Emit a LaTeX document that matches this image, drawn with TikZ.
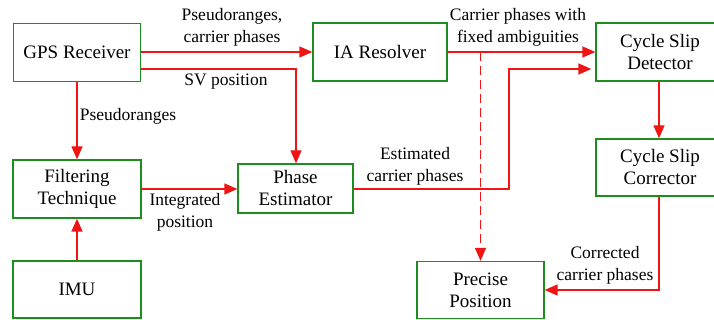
\documentclass[tikz,border=0pt]{standalone}
\usepackage{fontspec}
\setmainfont{Liberation Serif}
\usetikzlibrary{arrows.meta,calc}
\definecolor{boxgreen}{RGB}{30,140,30}
\definecolor{linered}{RGB}{240,20,20}
\tikzset{
  blk/.style={draw=boxgreen, line width=1.3pt, fill=white, align=center, inner sep=2pt,
    font=\rmfamily\fontsize{19}{22}\selectfont},
  conn/.style={draw=linered, line width=1.3pt, -{Triangle[length=13pt,width=11pt]}},
  lbl/.style={align=center, font=\rmfamily\fontsize{17.5}{22}\selectfont, inner sep=0pt}
}
\begin{document}
\begin{tikzpicture}[x=1pt,y=-1pt]
\useasboundingbox (0,0) rectangle (714,320);
\fill[white] (0,0) rectangle (714,320);

\node[blk, minimum width=127pt, minimum height=58pt] (gps) at (77,52.5) {GPS Receiver};
\node[blk, minimum width=134pt, minimum height=58pt] (ia) at (380,52) {IA Resolver};
\node[blk, minimum width=128pt, minimum height=58pt] (det) at (660,52) {Cycle Slip\\Detector};
\node[blk, minimum width=128pt, minimum height=58pt] (filt) at (77,189) {Filtering\\Technique};
\node[blk, minimum width=115pt, minimum height=49pt] (phase) at (295.5,188.5) {Phase\\Estimator};
\node[blk, minimum width=128pt, minimum height=57pt] (corr) at (660,167.5) {Cycle Slip\\Corrector};
\node[blk, minimum width=128pt, minimum height=57pt] (imu) at (77,289.5) {IMU};
\node[blk, minimum width=127pt, minimum height=57pt] (prec) at (480.5,290) {Precise\\Position};

% GPS -> IA
\draw[conn] (gps.east |- 0,52) -- (ia.west |- 0,52);
% SV position
\draw[conn] ($(gps.east)+(0,16.5)$) -| (phase.north -| 296,0);
% Pseudoranges
\draw[conn] (gps.south) -- (filt.north);
% IMU -> Filtering
\draw[conn] (imu.north) -- (filt.south);
% Filtering -> Phase
\draw[conn] (filt.east) -- (phase.west |- filt.east);
% Phase -> Detector
\coordinate (bend) at (509,189);
\draw[conn] (phase.east |- bend) -- (bend) |- ($(det.west)+(-4,17)$);
% IA -> Detector
\draw[conn] (ia.east |- 0,52) -- (det.west |- 0,52);
% dashed to precise
\coordinate (split) at (480.5,52);
\draw[conn, dash pattern=on 9pt off 5pt] (split) -- (prec.north);
% Detector -> Corrector
\draw[conn] (det.south -| 659,0) -- (corr.north -| 659,0);
% Corrector -> Precise
\draw[conn] (corr.south -| 659,0) |- (prec.east |- 0,290);

% labels
\node[lbl] at (232,27) {Pseudoranges,\\carrier phases};
\node[lbl] at (226,82) {SV position};
\node[lbl] at (128,116) {Pseudoranges};
\node[lbl] at (185,212) {Integrated\\position};
\node[lbl] at (415,166) {Estimated\\carrier phases};
\node[lbl] at (518,27) {Carrier phases with\\fixed ambiguities};
\node[lbl] at (605,265) {Corrected\\carrier phases};
\end{tikzpicture}
\end{document}
